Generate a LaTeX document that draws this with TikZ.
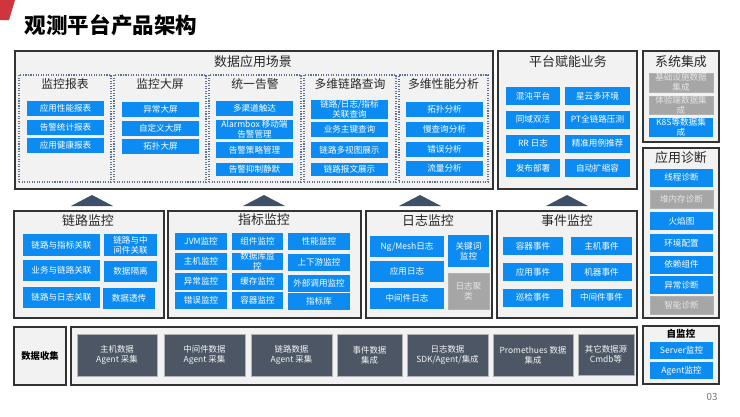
\documentclass[tikz,border=0pt]{standalone}
\usepackage{fontspec}
\setmainfont{Noto Sans CJK SC}
\usetikzlibrary{positioning, shadows}

\definecolor{itemblue}{RGB}{12,140,242}
\definecolor{itemgray}{RGB}{166,166,166}
\definecolor{agentdark}{RGB}{76,86,100}
\definecolor{panelgray}{RGB}{242,242,242}
\definecolor{subline}{RGB}{96,112,145}
\definecolor{arrowdark}{RGB}{62,79,104}
\definecolor{titlered}{RGB}{208,52,62}

\begin{document}
\begin{tikzpicture}[x=0.025cm, y=-0.025cm,
    sz/.style 2 args={minimum width=#1*0.025cm, minimum height=#2*0.025cm},
    panel/.style={draw=black!80, line width=1.1pt, fill=panelgray, inner sep=0pt,
                  drop shadow={shadow xshift=0.8pt, shadow yshift=-1pt, opacity=0.3}},
    subpanel/.style={draw=subline, densely dotted, line width=0.8pt, fill=panelgray, inner sep=0pt},
    item/.style={fill=itemblue, text=white, inner sep=0pt, align=center,
                 font=\fontsize{6.1}{7.2}\selectfont},
    off/.style={item, fill=itemgray, draw=black!30, line width=0.3pt, text=black!10},
    agent/.style={fill=agentdark, draw=black!30, line width=0.3pt, text=black!4, inner sep=0pt,
                  align=center, font=\fontsize{6}{7.3}\selectfont},
    ttl/.style={font=\fontsize{9.2}{10}\selectfont, text=black!85},
    subttl/.style={font=\fontsize{8.4}{9}\selectfont, text=black!85},
    tri/.style={fill=arrowdark},
]
\fill[white] (0,0) rectangle (740,416);
\useasboundingbox (0,0) rectangle (740,416);

% title
\fill[titlered] (0,0) -- (15,0) -- (9,20) -- (0,20) -- cycle;
\node[anchor=west, font=\fontsize{15.3}{17}\selectfont\bfseries] (title) at (20,25) {观测平台产品架构};

% data application scenes
\node[panel, sz={478}{138}] (scene) at (254,120) {};
\node[ttl] (scene-t) at (253,62) {数据应用场景};
\foreach \n/\x/\w/\t in {rpt/65/92/监控报表, scr/160/92/监控大屏, alm/255/92/统一告警, qry/350/92/多维链路查询, ana/443.5/89/多维性能分析} {
    \node[subpanel, sz={\w}{107}] (\n) at (\x,128.5) {};
    \node[subttl] (\n-t) at (\x,84) {\t};
}
\foreach \y/\t [count=\i] in {108.5/应用性能报表, 127.5/告警统计报表, 145.5/应用健康报表}
    \node[item, sz={77}{15}] (rpt\i) at (65.5,\y) {\t};
\foreach \y/\t [count=\i] in {109/异常大屏, 128.5/自定义大屏, 146.5/拓扑大屏}
    \node[item, sz={77}{15}] (scr\i) at (160.5,\y) {\t};
\node[item, sz={77}{15}] (alm1) at (254.5,108.5) {多渠道触达};
\node[item, sz={77}{19}] (alm2) at (254.5,129.5) {Alarmbox 移动端\\告警管理};
\node[item, sz={77}{16}] (alm3) at (254.5,150) {告警策略管理};
\node[item, sz={77}{13}] (alm4) at (254.5,169.5) {告警抑制静默};
\node[item, sz={77}{17}] (qry1) at (349.5,109.5) {链路/日志/指标\\关联查询};
\node[item, sz={77}{15}] (qry2) at (349.5,129.5) {业务主键查询};
\node[item, sz={77}{16}] (qry3) at (349.5,150) {链路多视图展示};
\node[item, sz={77}{13}] (qry4) at (349.5,169.5) {链路报文展示};
\foreach \y/\t [count=\i] in {109.5/拓扑分析, 129.5/慢查询分析, 149.5/错误分析, 168.5/流量分析}
    \node[item, sz={77}{15}] (ana\i) at (444.5,\y) {\t};

% platform business
\node[panel, sz={139}{138}] (biz) at (567.5,120) {};
\node[ttl] (biz-t) at (568,62) {平台赋能业务};
\foreach \y/\l/\r [count=\i] in {96/混沌平台/星云多环境, 119.5/同域双活/PT全链路压测, 143.5/RR 日志/精准用例推荐, 168/发布部署/自动扩缩容} {
    \node[item, sz={54}{18}] (bizL\i) at (533,\y) {\l};
    \node[item, sz={65}{18}] (bizR\i) at (597.5,\y) {\r};
}

% system integration
\node[panel, sz={76}{91}] (sys) at (681,96.5) {};
\node[ttl] (sys-t) at (681,62) {系统集成};
\node[off, sz={64}{19}] (sys1) at (681,82.5) {基础设施数据\\集成};
\node[off, sz={64}{18}] (sys2) at (681,105) {体验端数据集\\成};
\node[item, sz={64}{19}] (sys3) at (681,127.5) {K8S等数据集\\成};

% application diagnosis
\node[panel, sz={76}{170}] (diag) at (681,233) {};
\node[ttl] (diag-t) at (681,158) {应用诊断};
\foreach \y/\t/\s [count=\i] in {177.5/线程诊断/item, 199.5/堆内存诊断/off, 221/火焰图/item, 243/环境配置/item, 264.5/依赖组件/item, 285/异常诊断/item, 305.5/智能诊断/off}
    \node[\s, sz={63}{18}] (diag\i) at (681.5,\y) {\t};

% trace monitoring
\node[panel, sz={150}{107}] (lnk) at (89,264.5) {};
\node[ttl] (lnk-t) at (88,221) {链路监控};
\node[item, sz={77}{22}] (lnk1) at (61.5,245) {链路与指标关联};
\node[item, sz={53}{22}] (lnk2) at (130.5,245) {链路与中\\间件关联};
\node[item, sz={77}{21}] (lnk3) at (61.5,270.5) {业务与链路关联};
\node[item, sz={53}{21}] (lnk4) at (130.5,271.5) {数据隔离};
\node[item, sz={77}{21}] (lnk5) at (61.5,297.5) {链路与日志关联};
\node[item, sz={52}{21}] (lnk6) at (129,298.5) {数据透传};

% metric monitoring
\node[panel, sz={193}{107}] (met) at (264.5,264.5) {};
\node[ttl] (met-t) at (264,220) {指标监控};
\foreach \y/\t [count=\i] in {241.5/JVM监控, 261.5/主机监控, 281.5/异常监控, 300.5/错误监控}
    \node[item, sz={52}{17}] (metA\i) at (201,\y) {\t};
\node[item, sz={51}{17}] (metB1) at (257.5,241.5) {组件监控};
\node[item, sz={51}{17}] (metB2) at (257.5,261.5) {数据库监\\控};
\node[item, sz={51}{17}] (metB3) at (257.5,281.5) {缓存监控};
\node[item, sz={51}{17}] (metB4) at (257.5,300.5) {容器监控};
\foreach \y/\t [count=\i] in {241.5/性能监控, 262.5/上下游监控, 283/外部调用监控, 301/指标库}
    \node[item, sz={62}{17}] (metC\i) at (319,\y) {\t};

% log monitoring
\node[panel, sz={126}{107}] (log) at (429,264.5) {};
\node[ttl] (log-t) at (428,221) {日志监控};
\node[item, sz={74}{21}] (log1) at (407,246.5) {Ng/Mesh日志};
\node[item, sz={74}{21}] (log2) at (407,271.5) {应用日志};
\node[item, sz={74}{21}] (log3) at (407,298.5) {中间件日志};
\node[item, sz={41}{32}] (log4) at (468.5,251) {关键词\\监控};
\node[off, sz={41}{36}] (log5) at (468.5,291) {日志聚\\类};

% event monitoring
\node[panel, sz={140}{107}] (evt) at (567,264.5) {};
\node[ttl] (evt-t) at (567,221) {事件监控};
\foreach \y/\l/\r [count=\i] in {246/容器事件/主机事件, 272/应用事件/机器事件, 297.5/巡检事件/中间件事件} {
    \node[item, sz={60}{18}] (evtL\i) at (533,\y) {\l};
    \node[item, sz={61}{18}] (evtR\i) at (601.5,\y) {\r};
}

% up arrows
\foreach \x in {92, 264, 420, 567}
    \fill[tri] (\x-21,206) -- (\x+21,206) -- (\x,195) -- cycle;

% data collection
\node[panel, sz={52}{58}, font=\fontsize{6.6}{8}\selectfont\bfseries] (col) at (40,356) {数据收集};
\node[panel, sz={566}{58}] (src) at (354,356) {};
\node[agent, sz={80}{42}] (src1) at (117,355) {主机数据\\Agent 采集};
\node[agent, sz={81}{42}] (src2) at (204.5,355) {中间件数据\\Agent 采集};
\node[agent, sz={81}{42}] (src3) at (291.5,355) {链路数据\\Agent 采集};
\node[agent, sz={65}{42}] (src4) at (369.5,355) {事件数据\\集成};
\node[agent, sz={81}{42}] (src5) at (447.5,355) {日志数据\\SDK/Agent/集成};
\node[agent, sz={80}{42}] (src6) at (533,355) {Promethues 数据\\集成};
\node[agent, sz={56}{41}] (src7) at (606,354.5) {其它数据源\\Cmdb等};

% self monitoring
\node[panel, sz={76}{58}] (self) at (681,355) {};
\node[font=\fontsize{6.8}{8}\selectfont\bfseries] (self-t) at (681,334) {自监控};
\node[item, sz={63}{17}] (self1) at (681.5,350.5) {Server监控};
\node[item, sz={63}{17}] (self2) at (681.5,370.5) {Agent监控};

\node[text=black!55, font=\fontsize{7}{8}\selectfont] (page) at (712,397) {03};
\end{tikzpicture}
\end{document}
